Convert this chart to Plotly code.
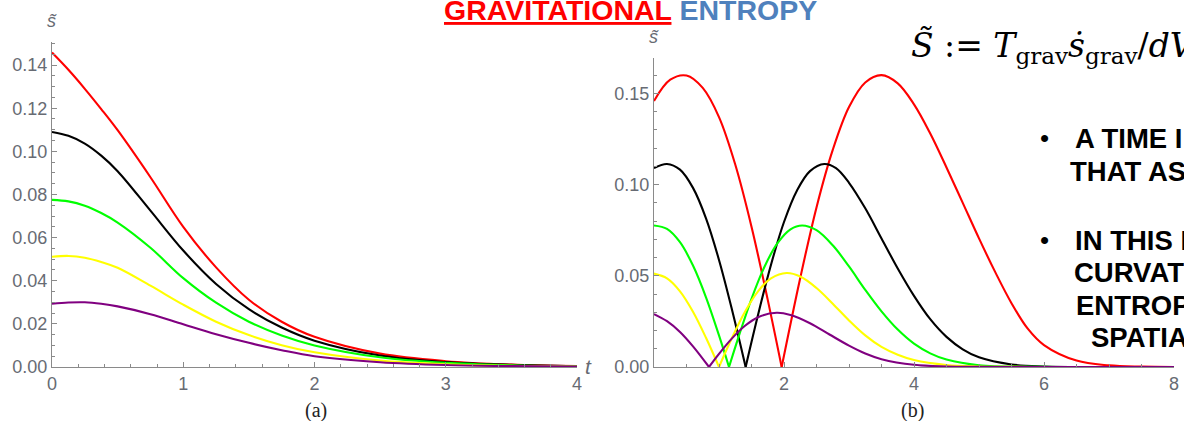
import plotly.graph_objects as go

W, H = 1184, 421

# ---------------- data: panel (a) ----------------
t_a = [0, 0.125, 0.25, 0.375, 0.5, 0.75, 1.0, 1.25, 1.5, 1.75, 2.0, 2.5, 3.0, 3.5, 4.0]
red_a = [0.1458, 0.1378, 0.1290, 0.1196, 0.1098, 0.0880, 0.0650, 0.0462, 0.0312, 0.0210, 0.0140, 0.0062, 0.0027, 0.0011, 0.0004]
black_a = [0.1090, 0.1072, 0.1036, 0.0980, 0.0908, 0.0725, 0.0540, 0.0385, 0.0268, 0.0183, 0.0122, 0.0053, 0.0023, 0.0010, 0.0004]
green_a = [0.0775, 0.0768, 0.0748, 0.0714, 0.0670, 0.0553, 0.0412, 0.0298, 0.0210, 0.0146, 0.0100, 0.0045, 0.0019, 0.0008, 0.0003]
yellow_a = [0.0511, 0.0515, 0.0507, 0.0487, 0.0460, 0.0377, 0.0289, 0.0210, 0.0148, 0.0101, 0.0068, 0.0030, 0.0013, 0.0005, 0.0002]
purple_a = [0.0293, 0.0299, 0.0300, 0.0293, 0.0281, 0.0245, 0.0198, 0.0152, 0.0112, 0.0078, 0.0050, 0.0022, 0.0009, 0.0004, 0.0002]

# ---------------- data: panel (b) ----------------
t_red_b = [0, 0.25, 0.5, 0.75, 1.0, 1.25, 1.5, 1.75, 1.964, 2.25, 2.5, 2.75, 3.0, 3.25, 3.5, 3.75,
           4.0, 4.25, 4.5, 4.75, 5.0, 5.25, 5.5, 5.75, 6.0, 6.5, 7.0, 7.5, 8.0]
red_b = [0.1458, 0.1575, 0.1598, 0.1530, 0.1370, 0.1110, 0.0769, 0.0368, 0.0, 0.0488, 0.0875, 0.1190, 0.1425,
         0.1560, 0.1600, 0.1555, 0.1440, 0.1280, 0.1094, 0.0900, 0.0705, 0.0520, 0.0350, 0.0210, 0.0120,
         0.0035, 0.0009, 0.0002, 0.0]

t_black_b = [0, 0.2, 0.4, 0.6, 0.8, 1.0, 1.2, 1.41, 1.6, 1.8, 2.0, 2.2, 2.4, 2.62, 2.8, 3.0, 3.25, 3.5,
             3.75, 4.0, 4.25, 4.5, 4.75, 5.0, 5.5, 6.0, 7.0, 8.0]
black_b = [0.1090, 0.1113, 0.1082, 0.0982, 0.0815, 0.0587, 0.0314, 0.0, 0.0285, 0.0561, 0.0795, 0.0968,
           0.1074, 0.1113, 0.1090, 0.1010, 0.0870, 0.0705, 0.0540, 0.0390, 0.0262, 0.0165, 0.0097, 0.0053,
           0.0014, 0.0003, 0.0, 0.0]

t_green_b = [0, 0.2, 0.4, 0.6, 0.8, 1.0, 1.154, 1.3, 1.5, 1.7, 1.9, 2.1, 2.28, 2.5, 2.75, 3.0, 3.25, 3.5,
             3.75, 4.0, 4.25, 4.5, 5.0, 6.0, 8.0]
green_b = [0.0776, 0.0757, 0.0684, 0.0556, 0.0382, 0.0173, 0.0, 0.0164, 0.0374, 0.0550, 0.0679, 0.0755,
           0.0776, 0.0750, 0.0667, 0.0551, 0.0423, 0.0305, 0.0205, 0.0128, 0.0075, 0.0041, 0.0010, 0.0001, 0.0]

t_yellow_b = [0, 0.2, 0.4, 0.6, 0.8, 1.0, 1.2, 1.4, 1.6, 1.8, 2.04, 2.25, 2.5, 2.75, 3.0, 3.25, 3.5, 3.75,
              4.0, 4.5, 5.0, 6.0, 8.0]
yellow_b = [0.0512, 0.0486, 0.0415, 0.0303, 0.0160, 0.0, 0.0160, 0.0303, 0.0415, 0.0486, 0.0515, 0.0496,
            0.0433, 0.0347, 0.0255, 0.0173, 0.0110, 0.0067, 0.0038, 0.0011, 0.0003, 0.0, 0.0]

t_purple_b = [0, 0.2, 0.4, 0.6, 0.846, 1.0, 1.2, 1.4, 1.6, 1.886, 2.1, 2.4, 2.7, 3.0, 3.25, 3.5, 4.0, 4.5,
              5.0, 6.0, 8.0]
purple_b = [0.0290, 0.0251, 0.0192, 0.0113, 0.0, 0.0072, 0.0157, 0.0226, 0.0273, 0.0297, 0.0285, 0.0240,
            0.0178, 0.0117, 0.0074, 0.0043, 0.0012, 0.0003, 0.0001, 0.0, 0.0]

colors = {"red": "#FF0000", "black": "#000000", "green": "#00FF00", "yellow": "#FFFF00", "purple": "#800080"}

x_ticks_a = [0, 1, 2, 3, 4]
x_ticks_b = [2, 4, 6, 8]

title_word1 = "GRAVITATIONAL"
title_word2 = "ENTROPY"
bullet_lines = [("A TIME I", True), ("THAT AS", False), ("IN THIS I", True), ("CURVAT", False),
                ("ENTROP", False), ("SPATIA", False)]

# ---------------- figure ----------------
fig = go.Figure()
LW = 2.1
SMOOTH = 1.0

series_a = [("red", red_a), ("black", black_a), ("green", green_a), ("yellow", yellow_a), ("purple", purple_a)]
for name, vals in series_a:
    fig.add_trace(go.Scatter(x=t_a, y=vals, mode="lines", xaxis="x", yaxis="y",
                             line=dict(color=colors[name], width=LW, shape="spline", smoothing=SMOOTH),
                             showlegend=False, hoverinfo="skip"))

series_b = [("red", t_red_b, red_b), ("black", t_black_b, black_b), ("green", t_green_b, green_b),
            ("yellow", t_yellow_b, yellow_b), ("purple", t_purple_b, purple_b)]
for name, tt, vals in series_b:
    iz = vals.index(0.0)  # cusp (zero crossing of the curve)
    for seg_t, seg_v in ((tt[:iz + 1], vals[:iz + 1]), (tt[iz:], vals[iz:])):
        fig.add_trace(go.Scatter(x=seg_t, y=seg_v, mode="lines", xaxis="x2", yaxis="y2",
                                 line=dict(color=colors[name], width=LW, shape="spline", smoothing=SMOOTH),
                                 showlegend=False, hoverinfo="skip"))

AX_COL = "#8a8a8a"
LBL_COL = "#676b73"
tickfont = dict(family="Liberation Sans, Arial", size=18, color=LBL_COL)


def px(x):
    return x / W


def py(y):
    return 1 - y / H


common = dict(showgrid=False, zeroline=False, showline=True, linecolor=AX_COL, linewidth=1,
              ticks="inside", ticklen=5, tickcolor=AX_COL, tickwidth=1, tickfont=tickfont,
              automargin=False, fixedrange=True)

fig.update_layout(
    width=W, height=H, margin=dict(l=0, r=0, t=0, b=0, autoexpand=False),
    paper_bgcolor="white", plot_bgcolor="white",
    xaxis=dict(domain=[px(52), px(577)], range=[0, 4], anchor="y", tickvals=x_ticks_a,
               minor=dict(ticks="inside", ticklen=3, dtick=0.2, tickcolor=AX_COL), **common),
    yaxis=dict(domain=[py(367), py(42)], range=[0, 0.1507], anchor="x", dtick=0.02, tickformat=".2f",
               minor=dict(ticks="inside", ticklen=3, dtick=0.005, tickcolor=AX_COL), **common),
    xaxis2=dict(domain=[px(654), px(1174)], range=[0, 8], anchor="y2", tickvals=x_ticks_b,
                minor=dict(ticks="inside", ticklen=3, dtick=0.5, tickcolor=AX_COL), **common),
    yaxis2=dict(domain=[py(367), py(58)], range=[0, 0.1694], anchor="x2", dtick=0.05, tickformat=".2f",
                minor=dict(ticks="inside", ticklen=3, dtick=0.01, tickcolor=AX_COL), **common),
)

P = dict(xref="paper", yref="paper", showarrow=False)
ann = []
# axis labels
ann.append(dict(x=px(52), y=py(21), text="<i>s̃</i>", xanchor="center", yanchor="middle",
                font=dict(family="Liberation Sans, Arial", size=18, color=LBL_COL), **P))
ann.append(dict(x=px(654), y=py(37), text="<i>s̃</i>", xanchor="center", yanchor="middle",
                font=dict(family="Liberation Sans, Arial", size=18, color=LBL_COL), **P))
ann.append(dict(x=px(588), y=py(366), text="<i>t</i>", xanchor="center", yanchor="middle",
                font=dict(family="Liberation Sans, Arial", size=21, color=LBL_COL), **P))
# panel captions
ann.append(dict(x=px(316), y=py(410), text="(a)", xanchor="center", yanchor="middle",
                font=dict(family="Liberation Serif, Times New Roman", size=20, color="#222222"), **P))
ann.append(dict(x=px(912), y=py(410), text="(b)", xanchor="center", yanchor="middle",
                font=dict(family="Liberation Serif, Times New Roman", size=20, color="#222222"), **P))
# slide title (cut at top)
ann.append(dict(x=px(442), y=py(10), xanchor="left", yanchor="middle",
                text="<b><span style='color:#FF0000'><u>%s</u></span> <span style='color:#4F81BD'>%s</span></b>"
                     % (title_word1, title_word2),
                font=dict(family="Liberation Sans, Arial", size=28.5), **P))
# formula
ann.append(dict(x=px(909), y=py(47), xanchor="left", yanchor="middle",
                text="<i>S̃</i> := <i>T</i><sub>grav</sub><i>ṡ</i><sub>grav</sub>/<i>dV</i>",
                font=dict(family="DejaVu Serif", size=33, color="#000000"), **P))
# bullet text (cut at right)
line_y = [138, 171, 240, 272, 305, 337]
line_x = [1073, 1068, 1073, 1072, 1074, 1089]
for (txt, has_bullet), yy, xx in zip(bullet_lines, line_y, line_x):
    ann.append(dict(x=px(xx), y=py(yy), xanchor="left", yanchor="middle",
                    text="<b>%s</b>" % txt, font=dict(family="Liberation Sans, Arial", size=27.5, color="#000000"), **P))
    if has_bullet:
        ann.append(dict(x=px(1044), y=py(yy), xanchor="center", yanchor="middle",
                        text="•", font=dict(family="Liberation Sans, Arial", size=26, color="#000000"), **P))

fig.update_layout(annotations=ann)
fig.write_html("out.html", config={"displayModeBar": False},
               post_script="document.body.style.margin='0px';")
